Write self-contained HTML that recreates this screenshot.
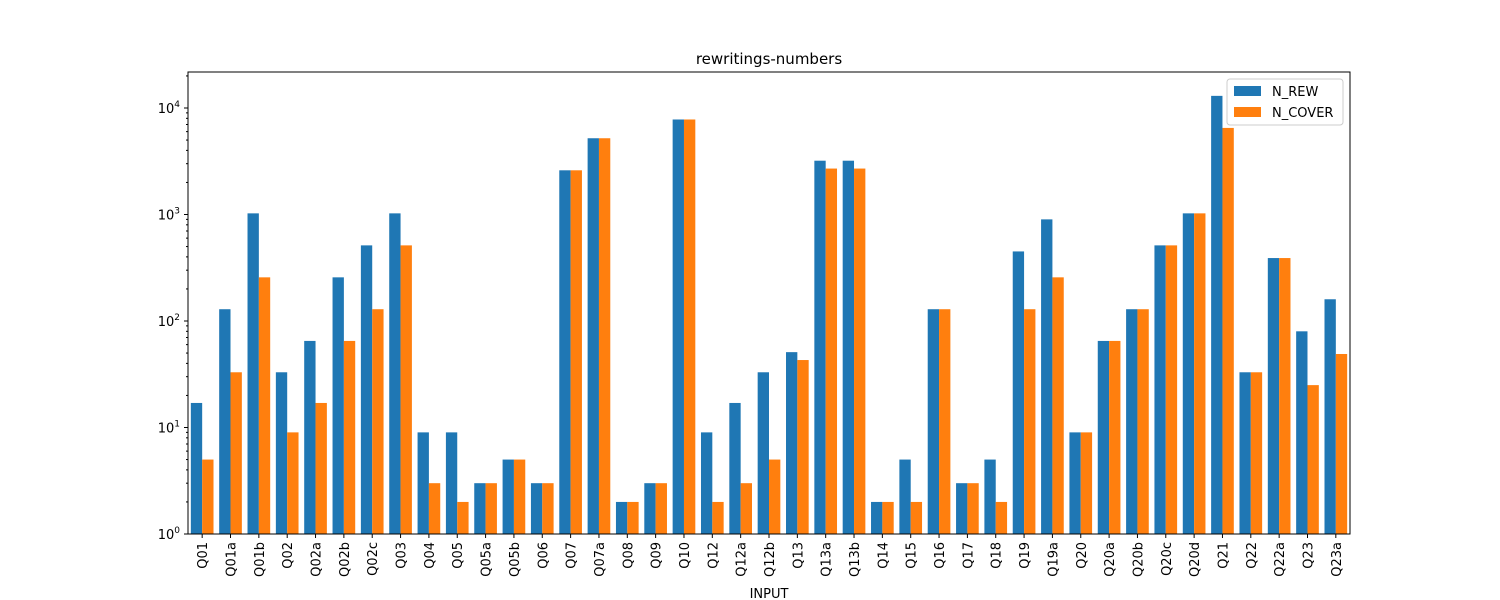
<!DOCTYPE html>
<html><head><meta charset="utf-8"><style>body{margin:0;background:#fff}svg{display:block;font-family:"DejaVu Sans","Liberation Sans",sans-serif}</style></head>
<body>
<svg id="chart" width="1500" height="600" xmlns="http://www.w3.org/2000/svg">
<text x="769" y="64" font-size="15" text-anchor="middle">rewritings-numbers</text>
<text x="769" y="598" font-size="13" text-anchor="middle">INPUT</text>
<g id="bars"></g><g id="axes"></g>
<g>
<rect x="1227" y="79" width="116" height="46" fill="#fff" stroke="#ccc" rx="3"/>
<rect x="1234" y="86" width="27" height="10" fill="#1f77b4"/>
<text x="1272" y="96" font-size="13">N_REW</text>
<rect x="1234" y="107" width="27" height="10" fill="#ff7f0e"/>
<text x="1272" y="117" font-size="13">N_COVER</text>
</g>
</svg>
<script>
const categories=["Q01","Q01a","Q01b","Q02","Q02a","Q02b","Q02c","Q03","Q04","Q05","Q05a","Q05b","Q06","Q07","Q07a","Q08","Q09","Q10","Q12","Q12a","Q12b","Q13","Q13a","Q13b","Q14","Q15","Q16","Q17","Q18","Q19","Q19a","Q20","Q20a","Q20b","Q20c","Q20d","Q21","Q22","Q22a","Q23","Q23a"];
const nRew=[17,129,1025,33,65,257,513,1025,9,9,3,5,3,2600,5200,2,3,7800,9,17,33,51,3200,3200,2,5,129,3,5,450,900,9,65,129,513,1025,13000,33,390,80,160];
const nCover=[5,33,257,9,17,65,129,513,3,2,3,5,3,2600,5200,2,3,7800,2,3,5,43,2700,2700,2,2,129,3,2,129,257,9,65,129,513,1025,6500,33,390,25,49];
const yTicks=[1,10,100,1000,10000];
const yTickLabels=["0","1","2","3","4"];
const L=188,R=1350,T=72,B=534,dec=106.5;
const NS="http://www.w3.org/2000/svg";
const y=v=>B-Math.log10(v)*dec;
const step=(R-L)/categories.length;
const x=i=>L+step*(i+0.5);
const bw=step*0.4;
function mk(t,a,p){const e=document.createElementNS(NS,t);for(const k in a)e.setAttribute(k,a[k]);p.appendChild(e);return e;}
const bars=document.getElementById('bars'),axes=document.getElementById('axes');
categories.forEach((c,i)=>{
 const a=mk('rect',{x:x(i)-bw,y:y(nRew[i]),width:bw,height:B-y(nRew[i]),fill:'#1f77b4'},bars);
 
 
 const b=mk('rect',{x:x(i),y:y(nCover[i]),width:bw,height:B-y(nCover[i]),fill:'#ff7f0e'},bars);
 
 
 mk('line',{x1:x(i),x2:x(i),y1:B,y2:B+4,stroke:'#000'},axes);
 const t=mk('text',{transform:`translate(${x(i)+5},${B+8}) rotate(-90)`,'font-size':13,'text-anchor':'end'},axes);
 t.textContent=c;
 
 
});
mk('rect',{x:L,y:T,width:R-L,height:B-T,fill:'none',stroke:'#000','stroke-width':1},axes);
yTicks.forEach((v,k)=>{
 const yy=y(v);
 mk('line',{x1:L-4,x2:L,y1:yy,y2:yy,stroke:'#000'},axes);
 for(let m=2;m<10&&k<yTicks.length;m++){const ym=y(v*m);if(ym>T)mk('line',{x1:L-2,x2:L,y1:ym,y2:ym,stroke:'#000'},axes);}
 const t=mk('text',{x:L-8,y:yy+5,'font-size':13,'text-anchor':'end'},axes);
 
 
 t.textContent='10';
 const s=document.createElementNS(NS,'tspan');s.setAttribute('dy','-6');s.setAttribute('font-size','9');s.textContent=yTickLabels[k];t.appendChild(s);
});
</script>
</body></html>
